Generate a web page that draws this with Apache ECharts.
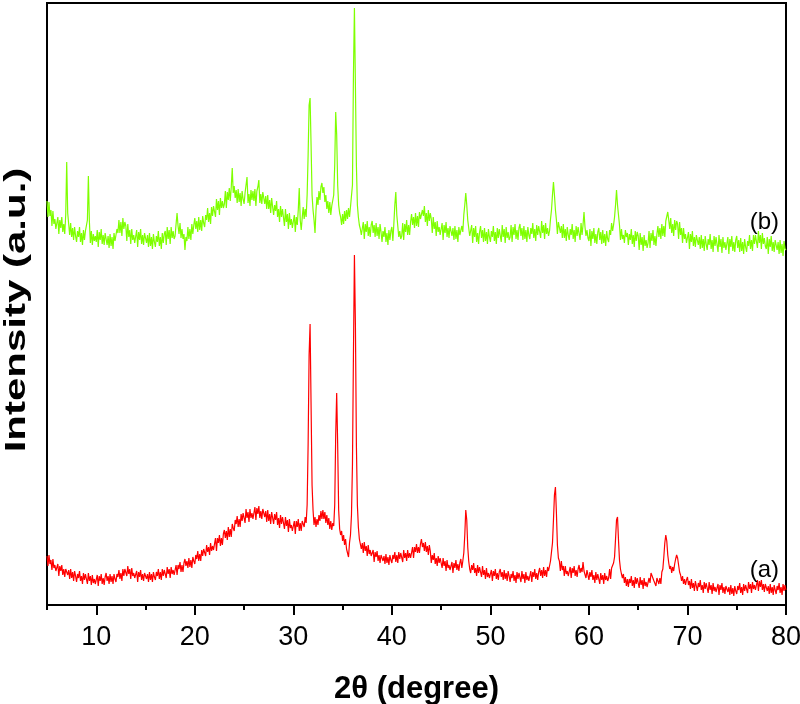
<!DOCTYPE html>
<html>
<head>
<meta charset="utf-8">
<script src="https://cdn.jsdelivr.net/npm/echarts@6/dist/echarts.min.js"></script>
<style>
html,body{margin:0;padding:0;background:#fff;}
#chart{width:800px;height:704px;}
</style>
</head>
<body>
<div id="chart"></div>
<script>
// 2-theta grid: 5.0 to 80.0 in steps of 0.1 degree
const thetaStart = 5.0;
const thetaStep = 0.1;

// (a) red pattern, intensity (arb. units, stacked)
const intensityA = [
49,39,50,41,45,35,46,37,40,34, 33,41,29,39,34,40,30,36,28,36, 38,30,35,26,36,27,33,24,34,29,
23,31,27,34,24,29,21,32,25,31, 30,21,32,24,29,20,30,22,26,21, 22,30,19,29,24,31,21,27,20,28,
32,24,29,21,31,23,29,21,31,26, 23,31,28,35,26,32,24,36,29,36, 38,29,39,31,36,26,37,29,32,27,
26,34,23,33,28,35,25,31,24,32, 34,26,31,23,33,25,31,23,33,28, 25,33,29,36,26,33,25,36,29,35,
36,27,38,31,36,27,38,31,35,30, 32,40,30,40,36,43,33,40,33,42, 46,39,44,37,47,38,45,37,48,44,
41,50,46,54,44,51,44,55,49,56, 57,49,60,53,58,50,62,54,59,55, 56,67,54,67,62,70,59,67,60,71,
75,67,74,65,78,68,76,68,81,77, 74,85,81,89,78,86,78,91,84,92, 93,82,96,87,93,83,96,87,92,86,
88,98,85,97,91,99,87,94,86,96, 97,88,94,83,95,84,91,81,93,87, 81,91,85,93,80,87,77,90,81,88,
87,76,88,79,85,73,86,77,80,74, 74,84,71,84,78,86,74,82,74,84, 86,78,88,82,100,160,250,281,200,120,
95,80,88,78,86,80,90,84,94,86, 95,86,93,82,90,80,87,76,84,75, 82,79,100,170,212,160,95,76,70,74,
64,70,60,66,56,58,48,62,70,90, 140,250,350,280,160,100,78,66,64,56, 62,52,63,54,59,49,60,51,55,49,
47,55,43,53,48,54,44,50,42,50, 52,44,49,41,51,42,48,40,50,45, 42,50,46,53,43,50,42,53,46,52,
52,43,55,47,52,44,55,47,52,47, 49,58,47,58,53,61,52,58,52,61, 66,58,62,54,63,53,59,50,60,54,
42,50,45,52,41,47,39,49,42,47, 46,37,47,39,44,34,45,37,40,35, 35,43,32,42,37,45,35,41,34,42,
46,37,44,52,70,95,85,58,44,36, 32,40,35,42,32,37,29,40,32,38, 37,28,39,30,35,26,37,28,32,27,
27,35,24,34,29,36,26,32,25,33, 36,28,33,25,35,26,32,24,34,29, 23,31,27,34,24,30,22,33,26,32,
32,23,34,26,31,22,33,25,29,24, 26,34,23,33,28,36,26,32,25,33, 37,29,35,27,38,29,35,28,38,34,
33,44,43,62,85,110,118,92,60,47, 44,34,44,35,39,29,39,31,34,29, 30,38,27,37,32,39,29,35,28,36,
40,32,37,33,43,34,35,27,35,30, 25,33,28,35,25,30,22,33,25,31, 30,21,32,25,30,21,32,25,29,24,
27,36,26,37,35,42,48,66,85,88, 65,45,36,31,27,31,22,28,19,26, 18,26,22,29,19,25,17,28,21,27,
26,17,28,20,25,16,27,19,23,18, 19,27,22,32,30,34,24,26,19,27, 29,21,27,21,33,36,48,62,70,64,
50,42,36,39,32,38,34,41,46,50, 47,40,33,30,24,29,21,26,20,25, 28,20,24,16,26,17,22,14,24,19,
14,22,18,25,15,20,12,23,16,22, 21,12,23,15,20,11,22,14,18,13, 13,21,10,20,15,22,12,18,11,19,
21,13,18,10,20,11,17,9,19,14, 11,19,15,22,12,18,10,21,14,20, 21,12,23,16,21,12,23,16,20,15,
17,25,14,24,18,25,15,21,13,21, 22,14,19,11,21,12,18,10,20,15, 11,19,15,22,12,18,10,21,14,20,
15
];

// (b) green pattern, intensity (arb. units, stacked)
const intensityB = [
404,388,403,389,395,379,394,381,386,376, 376,388,371,385,377,388,373,381,371,390, 443,392,381,370,382,368,377,365,378,369,
363,374,368,378,363,372,360,375,365,374, 372,385,429,384,362,374,360,371,364,369, 363,375,358,373,365,376,361,370,360,372,
372,360,369,357,371,359,368,356,372,364, 363,376,372,385,372,383,369,387,376,383, 379,364,381,368,375,361,376,365,370,362,
363,375,358,373,365,376,361,370,360,372, 374,362,370,358,372,359,368,356,371,363, 358,369,363,374,359,368,356,372,362,371,
374,360,378,366,375,361,378,367,374,366, 369,381,392,379,371,382,367,376,366,371, 355,368,364,378,366,376,365,381,371,380,
387,376,384,373,388,375,385,374,389,382, 378,390,385,397,383,392,381,398,389,399, 401,388,406,395,404,390,407,397,404,397,
401,414,397,413,405,417,404,418,437,412, 419,407,415,402,416,403,412,399,414,406, 401,412,420,428,402,411,399,415,405,414,
404,416,399,414,418,425,402,411,401,413, 414,401,409,396,410,396,405,392,407,398, 390,400,394,404,388,396,383,399,388,396,
394,379,396,383,391,376,392,380,386,377, 378,390,373,388,380,395,417,385,375,387, 398,386,396,388,410,450,500,507,460,410,
395,385,372,395,408,400,414,405,418,422, 412,418,403,410,396,404,392,403,390,399, 398,410,440,493,470,420,400,392,388,380,
391,381,394,384,395,386,397,388,398,400, 420,530,597,520,440,400,388,380,376,370, 371,383,366,381,373,384,369,378,368,380,
384,372,380,368,382,369,378,366,381,373, 363,374,368,378,363,372,360,375,365,374, 378,364,381,400,413,390,379,368,374,366,
369,382,365,381,373,385,370,380,370,383, 391,380,388,377,392,379,389,378,393,386, 385,395,389,399,383,392,379,395,384,392,
386,372,388,376,383,369,384,373,378,370, 370,382,365,380,372,383,368,377,367,379, 381,369,377,365,379,366,375,363,378,370,
368,379,373,390,400,412,400,385,377,369, 368,380,362,377,368,379,363,372,361,373, 379,367,375,363,377,364,373,361,376,368,
363,374,368,379,364,373,361,377,367,376, 377,363,380,368,376,362,378,367,373,365, 368,380,363,378,370,381,366,375,365,377,
381,369,377,365,379,366,375,363,378,370, 366,377,371,382,367,376,364,380,370,379, 381,367,384,372,380,366,382,371,377,369,
374,386,395,410,423,410,395,385,371,383, 384,372,379,367,381,367,376,364,378,370, 365,376,370,381,366,375,363,379,369,378,
379,365,382,370,380,393,378,369,375,367, 364,376,359,374,366,377,362,371,361,373, 377,365,373,361,375,362,371,359,374,366,
363,375,370,382,374,380,388,400,415,400, 390,380,365,376,366,370,362,375,368,372, 360,371,365,376,361,370,358,374,364,373,
369,355,372,360,368,354,370,359,365,357, 362,374,357,372,364,375,360,369,359,371, 379,368,377,366,381,369,379,368,384,384,
393,385,376,387,372,381,369,385,375,384, 381,366,383,370,377,362,377,366,371,362, 361,373,356,371,363,374,359,368,358,370,
372,360,368,356,370,357,366,354,369,361, 355,366,360,371,356,365,353,369,359,368, 367,353,370,358,366,352,368,357,363,355,
356,368,351,366,358,369,354,363,353,365, 369,357,365,353,367,354,363,351,366,358, 353,364,359,370,356,365,354,370,361,370,
371,357,374,362,370,356,372,361,367,359, 356,368,351,366,358,369,354,363,353,365, 367,355,363,351,365,352,361,349,364,356,
355
];

const xMajorTicks = [10, 20, 30, 40, 50, 60, 70, 80];
const xMinorTicks = [5, 15, 25, 35, 45, 55, 65, 75];
const labelA = '(a)';
const labelB = '(b)';
const xTitle = '2θ (degree)';
const yTitle = 'Intensity (a.u.)';

const twoTheta = intensityA.map((_, i) => +(thetaStart + thetaStep * i).toFixed(1));
const dataA = twoTheta.map((t, i) => [t, intensityA[i]]);
const dataB = twoTheta.map((t, i) => [t, intensityB[i]]);

const FONT = "'Liberation Sans', Arial, sans-serif";

const chart = echarts.init(document.getElementById('chart'), null, {renderer: 'canvas'});
chart.setOption({
  animation: false,
  backgroundColor: '#fff',
  grid: {left: 47, right: 14, top: 3, bottom: 99, containLabel: false, outerBoundsMode: 'none',
         show: true, borderColor: '#000', borderWidth: 2, backgroundColor: 'transparent'},
  xAxis: [{
    type: 'value', min: 5, max: 80, gridIndex: 0, position: 'bottom',
    axisLine: {show: true, onZero: false, lineStyle: {color: '#000', width: 2}},
    axisTick: {show: true, customValues: xMajorTicks, length: 10, inside: false, lineStyle: {color: '#000', width: 2}},
    axisLabel: {show: true, customValues: xMajorTicks, margin: 19, fontSize: 27, color: '#000', fontFamily: FONT},
    splitLine: {show: false},
    name: xTitle, nameLocation: 'middle', nameGap: 69,
    nameTextStyle: {fontSize: 31, fontWeight: 'bold', color: '#000', fontFamily: FONT}
  }, {
    type: 'value', min: 5, max: 80, gridIndex: 0, position: 'bottom',
    axisLine: {show: false, onZero: false},
    axisTick: {show: true, customValues: xMinorTicks, length: 5, lineStyle: {color: '#000', width: 2}},
    axisLabel: {show: false},
    splitLine: {show: false}
  }],
  yAxis: {
    type: 'value', min: 0, max: 602,
    axisLine: {show: true, onZero: false, lineStyle: {color: '#000', width: 2}},
    axisTick: {show: false}, axisLabel: {show: false}, splitLine: {show: false}
  },
  graphic: [{
    type: 'text', x: 17, y: 310, rotation: Math.PI / 2, scaleX: 1.4, scaleY: 1,
    style: {text: yTitle, font: "bold 30px 'Liberation Sans', Arial, sans-serif", fill: '#000',
            align: 'center', verticalAlign: 'middle', textAlign: 'center', textVerticalAlign: 'middle'}
  }],
  series: [{
    name: labelA, type: 'line', xAxisIndex: 0, data: dataA, showSymbol: false, symbol: 'none',
    lineStyle: {color: '#ff0000', width: 1.2}, sampling: null, z: 3,
    markPoint: {symbol: 'circle', symbolSize: 0, silent: true,
      data: [{coord: [77.8, 35], label: {show: true, formatter: labelA, position: 'inside', fontSize: 24, color: '#000', fontFamily: FONT}}]}
  }, {
    name: labelB, type: 'line', xAxisIndex: 0, data: dataB, showSymbol: false, symbol: 'none',
    lineStyle: {color: '#7fff00', width: 1.2}, sampling: null, z: 2,
    markPoint: {symbol: 'circle', symbolSize: 0, silent: true,
      data: [{coord: [77.8, 383], label: {show: true, formatter: labelB, position: 'inside', fontSize: 24, color: '#000', fontFamily: FONT}}]}
  }]
});
</script>
</body>
</html>
